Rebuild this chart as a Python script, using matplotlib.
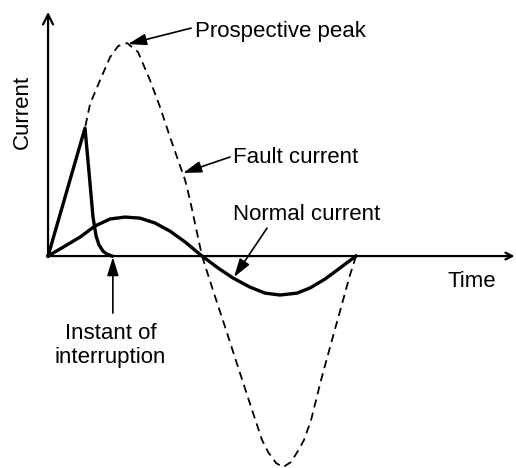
import matplotlib
matplotlib.use('Agg')
import matplotlib.pyplot as plt

plt.rcParams['font.family'] = ['Liberation Sans', 'DejaVu Sans']

# time in ms (50 Hz, half cycle = 10 ms), current in arbitrary units
fault_t = [0.00, 2.40, 2.73, 3.38, 4.03, 4.55, 5.13, 5.84, 6.62, 7.27, 7.92, 8.44,
           8.90, 9.22, 9.61, 10.00, 10.71, 11.56, 12.40, 13.25, 13.90, 14.29, 14.81,
           15.26, 15.78, 16.23, 16.62, 17.08, 17.73, 18.44, 19.16, 19.55, 20.00]
fault_i = [0.00, 6.01, 7.14, 8.26, 9.34, 9.86, 10.00, 9.58, 8.26, 7.00, 5.59, 4.51,
           3.57, 2.63, 1.31, 0.00, -1.60, -3.47, -5.35, -7.23, -8.64, -9.20, -9.72,
           -9.91, -9.67, -9.15, -8.64, -7.70, -5.82, -3.94, -2.07, -1.03, 0.00]

normal_t = [0.00, 1.10, 2.08, 3.05, 4.03, 5.00, 5.97, 6.95, 7.92, 8.90, 10.00,
            11.04, 12.01, 13.12, 14.09, 15.06, 16.17, 17.01, 17.99, 18.96, 20.00]
normal_i = [0.00, 0.47, 0.89, 1.41, 1.74, 1.83, 1.78, 1.55, 1.17, 0.66, 0.00,
            -0.56, -1.03, -1.46, -1.74, -1.83, -1.74, -1.50, -1.08, -0.56, 0.00]

# current actually flowing, cut off by the limiter
cut_t = [0.00, 2.40, 2.66, 2.92, 3.12, 3.31, 3.57, 3.83, 4.16]
cut_i = [0.00, 6.01, 3.94, 1.83, 0.94, 0.52, 0.23, 0.09, 0.00]

t_interrupt = 4.16
peak_t, peak_i = 5.13, 10.00

fig = plt.figure(figsize=(5.16, 4.68), dpi=100)
ax = fig.add_axes([0, 0, 1, 1])
ax.set_xlim(-3.12, 30.39)
ax.set_ylim(-9.95, 12.02)
ax.axis('off')

# axes with arrows
ax.annotate('', xy=(0, 11.46), xytext=(0, 0),
            arrowprops=dict(arrowstyle='->', lw=1.6, color='black',
                            mutation_scale=18, shrinkA=0, shrinkB=0))
ax.annotate('', xy=(30.3, 0), xytext=(0, 0),
            arrowprops=dict(arrowstyle='->', lw=1.6, color='black',
                            mutation_scale=12, shrinkA=0, shrinkB=0))

ax.plot(fault_t, fault_i, color='black', lw=1.3, dashes=(4.5, 3), clip_on=False)
ax.plot(normal_t, normal_i, color='black', lw=2.4, solid_joinstyle='round')
ax.plot(cut_t, cut_i, color='black', lw=2.4, solid_joinstyle='round')

arrow = dict(arrowstyle='-|>,head_length=0.8,head_width=0.25', lw=1.2,
             color='black', mutation_scale=14, shrinkA=0, shrinkB=0)
fs = 16

ax.text(9.55, 10.28, 'Prospective peak', fontsize=fs, va='baseline')
ax.annotate('', xy=(peak_t + 0.06, peak_i - 0.05), xytext=(9.29, 10.70), arrowprops=arrow)

ax.text(12.01, 4.37, 'Fault current', fontsize=fs, va='baseline')
ax.annotate('', xy=(8.77, 3.90), xytext=(11.82, 4.65), arrowprops=arrow)

ax.text(12.01, 1.69, 'Normal current', fontsize=fs, va='baseline')
ax.annotate('', xy=(12.08, -0.99), xytext=(14.22, 1.31), arrowprops=arrow)

ax.text(25.97, -1.46, 'Time', fontsize=fs, va='baseline')
ax.text(-1.69, 6.76, 'Current', fontsize=fs, rotation=90, ha='center', va='center')

ax.annotate('', xy=(t_interrupt + 0.05, -0.05), xytext=(t_interrupt + 0.05, -2.68),
            arrowprops=arrow)
ax.text(t_interrupt - 0.1, -3.15, 'Instant of\ninterruption', fontsize=fs,
        ha='center', va='top', multialignment='center', linespacing=1.2)

fig.savefig('out.png', dpi=100, facecolor='white')
